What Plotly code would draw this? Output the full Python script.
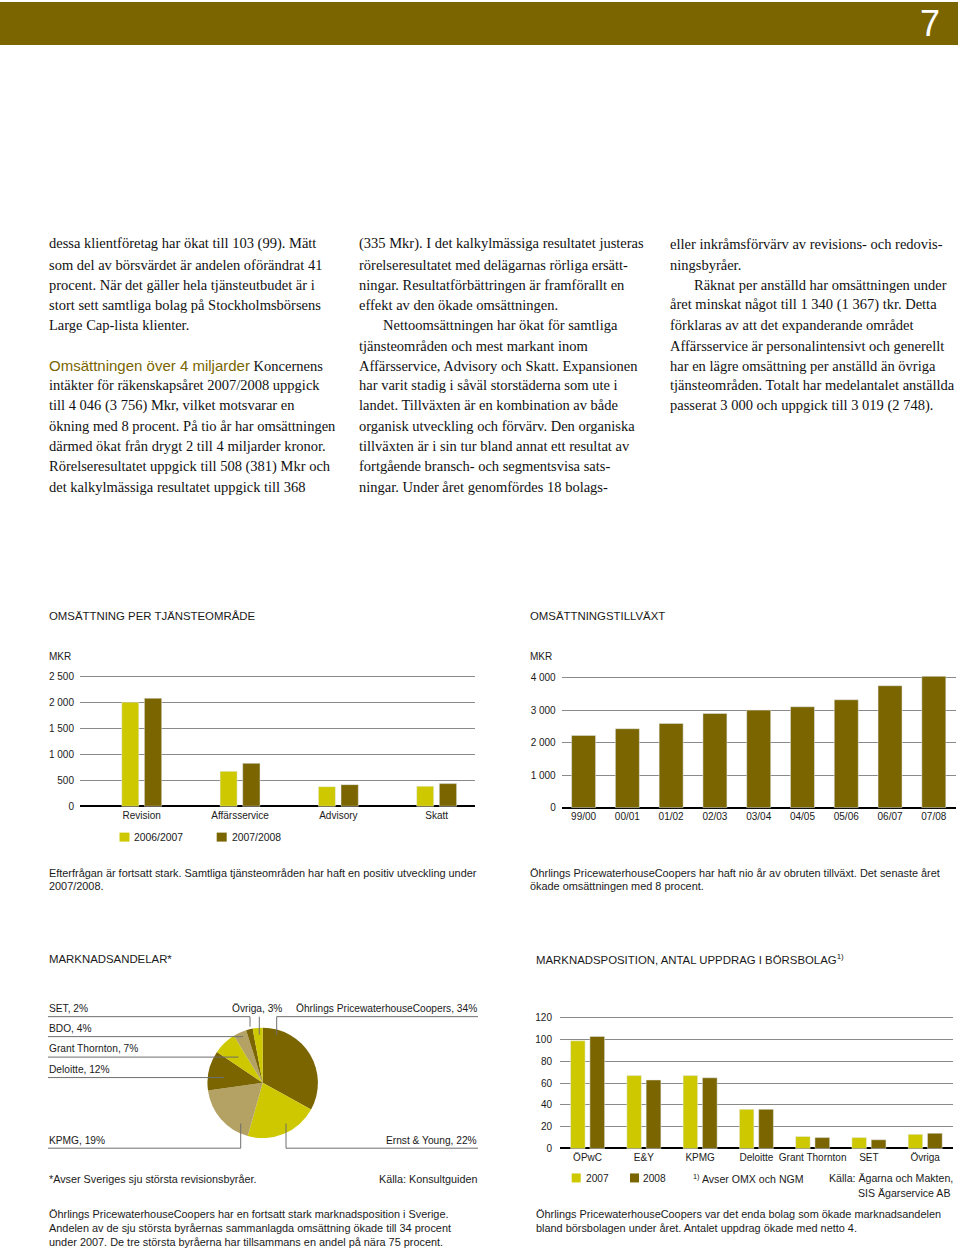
import plotly.graph_objects as go

# ---------------- data ----------------
service_categories = ["Revision", "Affärsservice", "Advisory", "Skatt"]
service_2006_2007 = [2000, 670, 375, 385]
service_2007_2008 = [2075, 825, 415, 435]
service_ticks = [0, 500, 1000, 1500, 2000, 2500]

growth_years = ["99/00", "00/01", "01/02", "02/03", "03/04", "04/05", "05/06", "06/07", "07/08"]
growth_values = [2226, 2431, 2595, 2903, 3005, 3108, 3323, 3756, 4046]
growth_ticks = [0, 1000, 2000, 3000, 4000]

share_labels = ["Öhrlings PricewaterhouseCoopers", "Ernst & Young", "KPMG", "Deloitte",
                "Grant Thornton", "BDO", "SET", "Övriga"]
share_values = [34, 22, 19, 12, 7, 4, 2, 3]

position_categories = ["ÖPwC", "E&Y", "KPMG", "Deloitte", "Grant Thornton", "SET", "Övriga"]
position_2007 = [99, 67, 67, 36, 11, 10, 13]
position_2008 = [103, 63, 65, 36, 10, 8, 14]
position_ticks = [0, 20, 40, 60, 80, 100, 120]

# ---------------- style ----------------
W, H = 960, 1249
KY = 1.0035  # small vertical correction for the rendered page
OLIVE = "#7a6500"
LIGHT = "#cdc800"
TAN = "#b3a263"
GRID = "#8a8a8a"
INK = "#1a1a1a"
SANS = "Liberation Sans, Arial, Helvetica, sans-serif"
SERIF = "Liberation Serif, Times New Roman, serif"
share_colors = [OLIVE, LIGHT, TAN, OLIVE, LIGHT, TAN, OLIVE, LIGHT]

TITLE = 11.4
CAP = 10.9


def fx(px):
    return px / W


def fy(py):
    return 1 - py * KY / H


def fmt(v):
    return f"{v:,}".replace(",", " ")


annotations = []
shapes = []


def text(x, y, s, size=10, anchor="left", family=SANS, color=INK):
    annotations.append(dict(x=fx(x), y=fy(y), xref="paper", yref="paper", text=s,
                            showarrow=False, xanchor=anchor, yanchor="middle",
                            borderpad=0, font=dict(family=family, size=size, color=color)))


def rect(x0, y0, x1, y1, color):
    shapes.append(dict(type="rect", xref="paper", yref="paper", x0=fx(x0), x1=fx(x1),
                       y0=fy(y1), y1=fy(y0), fillcolor=color, line=dict(width=0), layer="below"))


def line(x0, y0, x1, y1, color="#6e6e6e", width=1):
    shapes.append(dict(type="line", xref="paper", yref="paper", x0=fx(x0), x1=fx(x1),
                       y0=fy(y0), y1=fy(y1), line=dict(color=color, width=width)))


fig = go.Figure()

# ---------------- chart 1: omsättning per tjänsteområde ----------------
fig.add_trace(go.Bar(x=service_categories, y=service_2006_2007, marker_color=LIGHT,
                     width=0.173, offset=-0.203, xaxis="x", yaxis="y", name="2006/2007"))
fig.add_trace(go.Bar(x=service_categories, y=service_2007_2008, marker_color=OLIVE,
                     width=0.176, offset=0.027, xaxis="x", yaxis="y", name="2007/2008"))

# ---------------- chart 2: omsättningstillväxt ----------------
fig.add_trace(go.Bar(x=growth_years, y=growth_values, marker_color=OLIVE,
                     width=0.548, xaxis="x2", yaxis="y2", name="Omsättning"))

# ---------------- chart 3: marknadsandelar ----------------
pcx, pcy, pr = 262.7, 1082.3, 55.3
fig.add_trace(go.Pie(values=share_values, labels=share_labels, sort=False,
                     direction="clockwise", rotation=0, textinfo="none",
                     marker=dict(colors=share_colors, line=dict(width=0)),
                     domain=dict(x=[fx(pcx - pr), fx(pcx + pr)], y=[fy(pcy + pr), fy(pcy - pr)]),
                     showlegend=False))

# ---------------- chart 4: marknadsposition ----------------
fig.add_trace(go.Bar(x=position_categories, y=position_2007, marker_color=LIGHT,
                     width=0.258, offset=-0.302, xaxis="x3", yaxis="y3", name="2007"))
fig.add_trace(go.Bar(x=position_categories, y=position_2008, marker_color=OLIVE,
                     width=0.262, offset=0.041, xaxis="x3", yaxis="y3", name="2008"))

tickfont = dict(family=SANS, size=10, color=INK)


def yax(domain_px, rng, ticks, standoff):
    return dict(domain=[fy(domain_px[1]), fy(domain_px[0])], range=rng, tickvals=ticks,
                ticktext=[fmt(t) for t in ticks], showgrid=True, gridcolor=GRID, gridwidth=1,
                zeroline=True, zerolinecolor="#000000", zerolinewidth=2, showline=False,
                ticks="", tickfont=tickfont, ticklabelstandoff=standoff, fixedrange=True)


def xax(domain_px, rng, anchor):
    return dict(domain=[fx(domain_px[0]), fx(domain_px[1])], range=rng, type="category",
                anchor=anchor, showgrid=False, zeroline=False, showline=False, ticks="",
                tickfont=tickfont, fixedrange=True)


# pixel mapping for chart 1: 0 -> 805.3, 2500 -> 675
s1 = (805.3 - 675) / 2500
y1_lo, y1_hi = -30, 2560
# chart 2: 0 -> 806.7, 4000 -> 676.7
s2 = (806.7 - 676.7) / 4000
y2_lo, y2_hi = -40, 4100
# chart 4: 0 -> 1148, 120 -> 1017.3
s4 = (1148 - 1017.3) / 120
y4_lo, y4_hi = -1.2, 123

layout_axes = dict(
    xaxis=xax((80, 475), [-0.628, 3.39], "y"),
    yaxis=yax((805.3 - y1_hi * s1, 805.3 - y1_lo * s1), [y1_lo, y1_hi], service_ticks, 5),
    xaxis2=xax((561.7, 955.7), [-0.5, 8.5], "y2"),
    yaxis2=yax((806.7 - y2_hi * s2, 806.7 - y2_lo * s2), [y2_lo, y2_hi], growth_ticks, 5),
    xaxis3=xax((560, 953.3), [-0.49, 6.5], "y3"),
    yaxis3=yax((1148 - y4_hi * s4, 1148 - y4_lo * s4), [y4_lo, y4_hi], position_ticks, 7),
)
layout_axes["yaxis"]["anchor"] = "x"
layout_axes["yaxis2"]["anchor"] = "x2"
layout_axes["yaxis3"]["anchor"] = "x3"

# ---------------- header band ----------------
rect(0, 0, 958, 43, OLIVE)
text(930, 22, "7", size=36, anchor="center", color="#ffffff")

# ---------------- body text ----------------
BODY = 14.5
ys = [242, 263, 283, 303, 323, 344, 364, 384, 404, 425, 445, 465, 486]
col1 = [
    "dessa klientföretag har ökat till 103 (99). Mätt",
    "som del av börsvärdet är andelen oförändrat 41",
    "procent. När det gäller hela tjänsteutbudet är i",
    "stort sett samtliga bolag på Stockholmsbörsens",
    "Large Cap-lista klienter.",
    None,
    f"<span style='font-family:{SANS};color:{OLIVE};font-size:15px'>Omsättningen över 4 miljarder</span> Koncernens",
    "intäkter för räkenskapsåret 2007/2008 uppgick",
    "till 4 046 (3 756) Mkr, vilket motsvarar en",
    "ökning med 8 procent. På tio år har omsättningen",
    "därmed ökat från drygt 2 till 4 miljarder kronor.",
    "Rörelseresultatet uppgick till 508 (381) Mkr och",
    "det kalkylmässiga resultatet uppgick till 368",
]
col2 = [
    "(335 Mkr). I det kalkylmässiga resultatet justeras",
    "rörelseresultatet med delägarnas rörliga ersätt-",
    "ningar. Resultatförbättringen är framförallt en",
    "effekt av den ökade omsättningen.",
    "\tNettoomsättningen har ökat för samtliga",
    "tjänsteområden och mest markant inom",
    "Affärsservice, Advisory och Skatt. Expansionen",
    "har varit stadig i såväl storstäderna som ute i",
    "landet. Tillväxten är en kombination av både",
    "organisk utveckling och förvärv. Den organiska",
    "tillväxten är i sin tur bland annat ett resultat av",
    "fortgående bransch- och segmentsvisa sats-",
    "ningar. Under året genomfördes 18 bolags-",
]
col3 = [
    "eller inkråmsförvärv av revisions- och redovis-",
    "ningsbyråer.",
    "\tRäknat per anställd har omsättningen under",
    "året minskat något till 1 340 (1 367) tkr. Detta",
    "förklaras av att det expanderande området",
    "Affärsservice är personalintensivt och generellt",
    "har en lägre omsättning per anställd än övriga",
    "tjänsteområden. Totalt har medelantalet anställda",
    "passerat 3 000 och uppgick till 3 019 (2 748).",
]
for colx, lines in ((48, col1), (358, col2), (669, col3)):
    for yy, s in zip(ys, lines):
        if s is None:
            continue
        x0 = colx
        if s.startswith("\t"):
            s = s[1:]
            x0 = colx + 24
        text(x0, yy, s, size=BODY, family=SERIF, color="#111111")

# ---------------- chart 1 texts ----------------
text(48, 615, "OMSÄTTNING PER TJÄNSTEOMRÅDE", size=TITLE)
text(48, 655, "MKR", size=10)
rect(119.5, 831.7, 129.5, 840.7, LIGHT)
text(133, 836.5, "2006/2007", size=10.4)
rect(216.7, 831.7, 226.7, 840.7, OLIVE)
text(230.5, 836.5, "2007/2008", size=10.4)
text(48, 872, "Efterfrågan är fortsatt stark. Samtliga tjänsteområden har haft en positiv utveckling under", size=CAP)
text(48, 885, "2007/2008.", size=CAP)

# ---------------- chart 2 texts ----------------
text(529, 615, "OMSÄTTNINGSTILLVÄXT", size=TITLE)
text(529, 655, "MKR", size=10)
text(529, 872, "Öhrlings PricewaterhouseCoopers har haft nio år av obruten tillväxt. Det senaste året", size=CAP)
text(529, 885, "ökade omsättningen med 8 procent.", size=CAP)

# ---------------- chart 3 texts ----------------
text(48, 958, "MARKNADSANDELAR*", size=TITLE)
lab = {l: f"{l}, {v}%" for l, v in zip(share_labels, share_values)}
text(48, 1008, lab["SET"], size=10.2)
text(48, 1027.5, lab["BDO"], size=10.2)
text(48, 1048, lab["Grant Thornton"], size=10.2)
text(48, 1068.5, lab["Deloitte"], size=10.2)
text(48, 1140, lab["KPMG"], size=10.2)
text(478, 1140, lab["Ernst & Young"], size=10.2, anchor="right")
text(282.5, 1008, lab["Övriga"], size=10.2, anchor="right")
text(478, 1008, lab["Öhrlings PricewaterhouseCoopers"], size=10.2, anchor="right")
# leader lines
line(48, 1016, 250, 1016)
line(250, 1016, 250, 1026)
line(48, 1036, 243, 1036)
line(48, 1056.5, 238.5, 1056.5)
line(48, 1077, 224, 1077)
line(259.3, 1016, 259.3, 1034)
line(276.7, 1016, 478, 1016)
line(276.7, 1016, 276.7, 1034)
line(48, 1147.7, 240.7, 1147.7)
line(240.7, 1147.7, 240.7, 1123)
line(286, 1147.7, 478, 1147.7)
line(286, 1147.7, 286, 1123)
text(48, 1179, "*Avser Sveriges sju största revisionsbyråer.", size=10.8)
text(478, 1179, "Källa: Konsultguiden", size=10.8, anchor="right")
text(48, 1214, "Öhrlings PricewaterhouseCoopers har en fortsatt stark marknadsposition i Sverige.", size=CAP)
text(48, 1228, "Andelen av de sju största byråernas sammanlagda omsättning ökade till 34 procent", size=CAP)
text(48, 1242, "under 2007. De tre största byråerna har tillsammans en andel på nära 75 procent.", size=CAP)

# ---------------- chart 4 texts ----------------
text(535, 958, "MARKNADSPOSITION, ANTAL UPPDRAG I BÖRSBOLAG<sup>1)</sup>", size=TITLE)
rect(571.7, 1173, 580.7, 1182, LIGHT)
text(585, 1177.7, "2007", size=10.2)
rect(630, 1173, 639, 1182, OLIVE)
text(642, 1177.7, "2008", size=10.2)
text(692, 1177.7, "<sup>1)</sup> Avser OMX och NGM", size=10.6)
text(954, 1177.7, "Källa: Ägarna och Makten,", size=10.6, anchor="right")
text(951, 1192.3, "SIS Ägarservice AB", size=10.6, anchor="right")
text(535, 1214, "Öhrlings PricewaterhouseCoopers var det enda bolag som ökade marknadsandelen", size=CAP)
text(535, 1228, "bland börsbolagen under året. Antalet uppdrag ökade med netto 4.", size=CAP)

fig.update_layout(
    width=W, height=H, autosize=False,
    margin=dict(l=0, r=0, t=0, b=0, pad=0),
    paper_bgcolor="#ffffff", plot_bgcolor="rgba(0,0,0,0)",
    barmode="overlay", showlegend=False,
    font=dict(family=SANS, color=INK),
    annotations=annotations, shapes=shapes,
    **layout_axes,
)

# keep the page exactly the size of the figure (no body margin, no inline line-box gap)
page_fix = (
    "var st=document.createElement('style');"
    "st.innerHTML='html,body{margin:0!important;padding:0!important;overflow:hidden;}"
    ".plotly-graph-div{line-height:0;overflow:hidden;}"
    ".svg-container{display:block!important;vertical-align:top;}';"
    "document.head.appendChild(st);"
)
fig.write_html("out.html", config={"displayModeBar": False}, post_script=page_fix)
